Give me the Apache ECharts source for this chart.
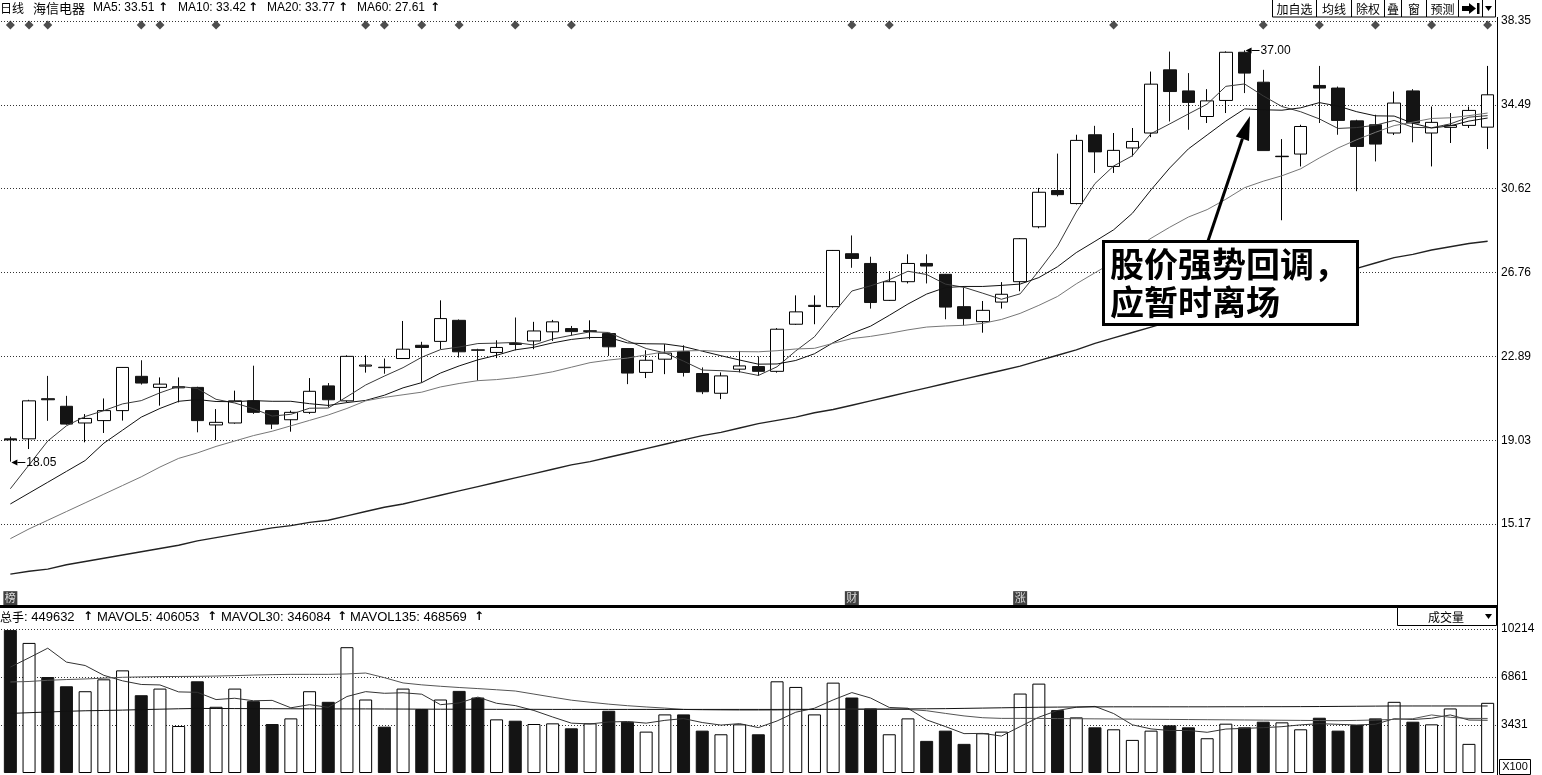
<!DOCTYPE html>
<html><head><meta charset="utf-8">
<script src="https://cdn.jsdelivr.net/npm/echarts@6/dist/echarts.min.js"></script>
<style>html,body{margin:0;padding:0;background:#fff;overflow:hidden}#c{width:1542px;height:775px}</style>
</head><body><div id="c"></div>
<script>
// ---------------- DATA ----------------
const categories = Array.from({length: 80}, (_, i) => 'D' + (i + 1));
const opens = [19.10,19.10,20.95,20.60,19.83,19.94,20.40,21.98,21.47,21.45, 21.47,19.74,19.83,20.85,20.40,19.98,20.32,21.54,20.85,22.45, 22.40,22.80,23.41,23.59,24.56,23.20,23.08,23.50,23.61,24.03, 24.18,24.05,23.95,23.26,22.16,22.77,23.12,22.11,21.20,22.31, 22.43,22.21,24.38,25.20,25.19,27.63,27.18,25.48,26.34,27.18, 26.68,25.19,24.50,25.40,26.34,28.87,30.54,29.94,33.11,31.65, 32.50,33.19,36.10,35.13,33.95,34.69,36.91,35.53,32.10,32.22, 35.38,35.26,33.75,33.57,33.19,35.13,33.19,33.45,33.54,33.46];
const closes = [19.05,20.85,20.90,19.78,20.04,20.40,22.39,21.67,21.62,21.50, 19.94,19.86,20.85,20.32,19.78,20.32,21.29,20.90,22.90,22.50, 22.38,23.23,23.31,24.64,23.11,23.18,23.31,23.45,24.07,24.49, 24.04,24.08,23.34,22.13,22.72,23.05,22.16,21.27,22.00,22.46, 22.21,24.15,24.95,25.25,27.78,27.41,25.38,26.34,27.18,27.06, 25.17,24.64,25.02,25.76,28.32,30.46,30.35,32.85,32.32,32.39, 32.80,35.44,35.10,34.60,34.67,36.91,35.95,32.38,32.12,33.49, 35.26,33.77,32.57,32.68,34.57,33.65,33.68,33.54,34.23,34.95];
const lows = [18.05,18.63,19.93,19.75,18.94,19.37,19.94,21.60,20.63,20.78, 19.40,19.02,19.80,20.25,19.55,19.43,20.25,20.55,20.80,22.15, 22.10,22.80,21.70,23.23,22.85,21.78,22.82,23.18,23.23,23.61, 23.85,23.69,22.92,21.62,21.90,22.08,21.97,21.16,20.93,22.16, 22.00,22.15,24.35,24.38,25.15,26.98,25.10,25.45,26.26,26.26, 24.61,24.33,23.99,25.10,25.90,28.80,30.27,29.90,31.35,31.35, 32.11,33.00,33.72,33.34,33.65,34.11,35.03,32.38,29.17,31.65, 33.65,33.11,30.51,31.88,33.10,32.76,31.65,32.73,33.42,32.45];
const highs = [19.20,20.90,22.00,21.08,20.24,20.96,22.40,22.72,21.93,21.93, 21.50,20.47,21.32,22.47,20.40,20.40,21.90,21.67,22.95,22.95, 22.80,24.53,23.57,25.48,24.60,23.25,23.64,24.69,24.49,24.58, 24.30,24.56,23.95,23.26,23.18,23.46,23.41,22.39,22.16,23.15, 22.90,24.20,25.71,25.71,27.80,28.47,27.49,26.83,27.60,27.60, 26.70,26.07,25.45,26.32,28.35,30.66,32.24,33.11,33.52,33.19, 33.42,36.02,36.94,35.95,35.21,36.95,37.00,36.10,32.91,33.57, 36.28,35.33,33.80,34.03,35.10,35.21,34.41,34.11,34.41,36.28];
const ma5 = [16.80,17.90,19.00,19.70,20.13,20.40,20.71,20.86,21.22,21.52, 21.42,20.92,20.75,20.49,20.15,20.23,20.51,20.52,21.04,21.58, 21.99,22.38,22.86,23.21,23.33,23.49,23.51,23.54,23.42,23.70, 23.87,24.03,24.00,23.62,23.26,23.06,22.68,22.27,22.24,22.19, 22.02,22.42,23.15,23.80,24.87,25.91,26.15,26.43,26.82,26.67, 26.23,26.08,25.81,25.53,25.78,26.84,27.98,29.55,30.86,31.67, 32.14,33.16,33.61,34.07,34.52,35.34,35.45,34.90,34.41,34.17, 33.84,33.40,33.44,33.55,33.77,33.45,33.43,33.61,33.92,33.99];
const ma10 = [16.10,16.60,17.10,17.60,18.10,18.90,19.50,20.10,20.50,20.83, 20.91,20.82,20.81,20.86,20.83,20.83,20.72,20.64,20.77,20.87, 21.11,21.45,21.69,22.13,22.46,22.74,22.95,23.20,23.32,23.52, 23.68,23.77,23.77,23.52,23.48,23.47,23.35,23.14,22.93,22.73, 22.54,22.55,22.71,23.02,23.53,23.96,24.29,24.79,25.31,25.77, 26.07,26.12,26.12,26.17,26.23,26.53,27.03,27.68,28.20,28.73, 29.49,30.57,31.58,32.46,33.10,33.74,34.30,34.26,34.24,34.35, 34.59,34.43,34.17,33.98,33.97,33.64,33.42,33.52,33.74,33.88];
const ma20 = [14.50,14.95,15.35,15.75,16.15,16.55,16.95,17.35,17.80,18.20, 18.45,18.75,19.00,19.25,19.45,19.70,19.95,20.20,20.50,20.85, 21.01,21.13,21.25,21.49,21.65,21.78,21.83,21.92,22.04,22.19, 22.40,22.61,22.73,22.82,22.97,23.11,23.15,23.17,23.12,23.12, 23.11,23.16,23.24,23.27,23.50,23.72,23.82,23.96,24.12,24.25, 24.30,24.33,24.42,24.60,24.88,25.25,25.66,26.24,26.75,27.25, 27.78,28.34,28.85,29.32,29.66,30.14,30.67,30.97,31.22,31.54, 32.04,32.50,32.88,33.22,33.53,33.69,33.86,33.89,33.99,34.11];
const ma60 = [12.87,13.00,13.10,13.30,13.45,13.60,13.75,13.90,14.05,14.20, 14.40,14.55,14.70,14.85,15.00,15.10,15.25,15.35,15.55,15.75, 15.95,16.10,16.30,16.50,16.70,16.90,17.10,17.30,17.50,17.70, 17.90,18.05,18.25,18.45,18.65,18.85,19.05,19.25,19.40,19.60, 19.80,19.95,20.10,20.30,20.45,20.65,20.85,21.05,21.25,21.45, 21.65,21.85,22.05,22.25,22.45,22.70,22.95,23.20,23.50,23.75, 24.00,24.25,24.50,24.75,25.00,25.25,25.50,25.75,25.95,26.20, 26.45,26.70,26.95,27.20,27.45,27.60,27.80,27.95,28.10,28.20];
const volumes = [10214,9298,6861,6199,5844,6696,7335,5560,6033,3360, 6554,4732,6033,5134,3502,3904,5844,5087,8991,5253, 3312,6033,4566,5253,5868,5394,3833,3738,3502,3549, 3194,3549,4448,3667,2958,4188,4188,3028,2768,3478, 2768,6554,6152,4188,6459,5394,4614,2768,3904,2295, 3028,2082,2839,2958,5678,6388,4495,3975,3265,3123, 2366,3028,3407,3265,2484,3525,3265,3667,3620,3123, 3951,3028,3431,3904,5087,3667,3478,4614,2082,5016];
const mavol5 = [7571,8234,8920,7926,7683,6980,6587,6327,6294,5797, 5768,5248,5342,5163,5191,4661,4883,4694,5466,5816, 5697,5735,5631,4883,5006,5423,4983,4817,4467,4003, 3563,3506,3648,3681,3563,3762,3890,3606,3426,3530, 3246,3719,4344,4628,5224,5749,5361,4685,4628,3795, 3322,2815,2830,2640,3317,3989,4472,4699,4760,4249, 3445,3151,3038,3038,2910,3142,3189,3241,3312,3440, 3525,3478,3431,3487,3880,3823,3913,4150,3786,3771];
const mavol30 = [6506,6540,6625,6680,6720,6780,6840,6870,6890,6900, 6909,6930,6960,7000,7030,7050,7050,7051,7080,7145, 6814,6436,6300,6199,6110,6033,5950,5860,5640,5420, 5205,5060,4921,4810,4720,4640,4543,4520,4505,4495, 4495,4500,4520,4540,4550,4560,4560,4550,4540,4450, 4260,4080,3950,3904,3904,3900,3890,3880,3870,3860, 3850,3840,3830,3820,3810,3800,3790,3780,3770,3760, 3750,3740,3760,3790,3830,3880,4150,3980,3900,3900];
const mavol135 = [4259,4310,4360,4410,4448,4470,4495,4530,4560,4590, 4614,4610,4605,4600,4595,4590,4585,4580,4580,4580, 4575,4570,4565,4560,4560,4555,4550,4550,4550,4545, 4545,4545,4545,4545,4545,4545,4545,4545,4545,4545, 4545,4545,4550,4550,4555,4560,4565,4570,4580,4590, 4600,4620,4640,4660,4680,4700,4710,4720,4725,4730, 4730,4730,4730,4730,4730,4735,4735,4740,4740,4745, 4750,4760,4770,4780,4790,4790,4790,4790,4790,4790];
const priceTickLabels = ['15.17','19.03','22.89','26.76','30.62','34.49','38.35'];
const volTickLabels = ['3431','6861','10214'];
const infoMarks = [0,1,2,7,8,11,19,20,22,24,27,30,45,47,59,67,70,73,76,79];
const iconIdx = [0,45,54];
const iconText = ['榜','财','涨'];
const headerItems = [['MA5: 33.51',93],['MA10: 33.42',178],['MA20: 33.77',267],['MA60: 27.61',357]];
const volHeaderItems = [['MAVOL5: 406053',97],['MAVOL30: 346084',221],['MAVOL135: 468569',350]];
const toolbar = [['加自选',1272,44],['均线',1316,35],['除权',1351,33],['叠',1384,17],['窗',1401,25],['预测',1426,32],['',1458,24],['',1482,13]];
const noteLines = ['股价强势回调，', '应暂时离场'];

// ---------------- CHART ----------------
const priceTop = 38.35, priceMin = 11.3067, priceStep = (38.35 - 11.3067) / 7;
const volMax = 10292, volStep = 10292 / 3;
const F = '12px "Liberation Sans", Arial, sans-serif';
const FV = '13px "Liberation Sans", Arial, sans-serif';
const FC = '12px "Noto Sans CJK SC", sans-serif';
const FA = 'bold 12px "DejaVu Sans", sans-serif';

const chart = echarts.init(document.getElementById('c'));
const up = closes.map((c, i) => c >= opens[i]);
const candleData = opens.map((o, i) => [o, closes[i], lows[i], highs[i]]);
const volData = volumes.map((v, i) => ({value: v, itemStyle: up[i]
  ? {color: '#fff', borderColor: '#000', borderWidth: 1}
  : {color: '#141414', borderColor: '#141414', borderWidth: 1}}));

function line(name, data, color, width, ax) {
  return {name, type: 'line', xAxisIndex: ax, yAxisIndex: ax, data, symbol: 'none',
    lineStyle: {color, width}, z: 4, silent: true};
}

chart.setOption({
  animation: false,
  backgroundColor: '#fff',
  grid: [
    {left: 1, right: 45, top: 21, height: 587},
    {left: 1, right: 45, top: 629, height: 144}
  ],
  xAxis: [
    {type: 'category', gridIndex: 0, data: categories, show: false, boundaryGap: true},
    {type: 'category', gridIndex: 1, data: categories, show: false, boundaryGap: true}
  ],
  yAxis: [
    {type: 'value', gridIndex: 0, position: 'right', min: priceMin, max: priceTop, interval: priceStep,
      axisLine: {show: true, lineStyle: {color: '#000', width: 1}}, axisTick: {show: false},
      axisLabel: {color: '#000', fontFamily: '"Liberation Sans", Arial', fontSize: 12, margin: 4,
        formatter: v => { const k = Math.round((v - priceMin) / priceStep); return (k >= 1 && k <= 7) ? priceTickLabels[k - 1] : ''; }},
      splitLine: {show: true, showMinLine: false, lineStyle: {color: '#333', width: 1, type: [1, 2]}}},
    {type: 'value', gridIndex: 1, position: 'right', min: 0, max: volMax, interval: volStep,
      axisLine: {show: true, lineStyle: {color: '#000', width: 1}}, axisTick: {show: false},
      axisLabel: {color: '#000', fontFamily: '"Liberation Sans", Arial', fontSize: 12, margin: 4,
        formatter: v => { const k = Math.round(v / volStep); return (k >= 1 && k <= 3) ? volTickLabels[k - 1] : ''; }},
      splitLine: {show: true, showMinLine: false, lineStyle: {color: '#333', width: 1, type: [1, 2]}}}
  ],
  series: [
    {type: 'candlestick', xAxisIndex: 0, yAxisIndex: 0, data: candleData, barWidth: 13, z: 3,
      itemStyle: {color: '#fff', color0: '#141414', borderColor: '#000', borderColor0: '#141414', borderWidth: 1}},
    line('MA5', ma5, '#3a3a3a', 1, 0),
    line('MA10', ma10, '#111', 1, 0),
    line('MA20', ma20, '#777', 1, 0),
    line('MA60', ma60, '#222', 1.4, 0),
    {type: 'scatter', xAxisIndex: 0, yAxisIndex: 0, data: infoMarks.map(i => [i, 38.17]),
      symbol: 'diamond', symbolSize: [9, 9], itemStyle: {color: '#222'}, z: 5, silent: true},
    {type: 'scatter', xAxisIndex: 0, yAxisIndex: 0,
      data: iconIdx.map((i, k) => ({value: [i, 11.76], label: {formatter: iconText[k]}})),
      symbol: 'rect', symbolSize: [14, 14], itemStyle: {color: '#111'}, z: 5, silent: true,
      label: {show: true, position: 'inside', color: '#fff', fontSize: 11, fontFamily: '"Noto Sans CJK SC"'}},
    {type: 'bar', xAxisIndex: 1, yAxisIndex: 1, data: volData, barWidth: 13, z: 2},
    line('MAVOL5', mavol5, '#333', 1, 1),
    line('MAVOL30', mavol30, '#555', 1, 1),
    line('MAVOL135', mavol135, '#111', 1, 1)
  ]
});

// ---------------- GRAPHICS ----------------
function T(x, y, text, font, align, z) {
  return {type: 'text', z: z || 100, style: {x, y, text, font: font || F, fill: '#000',
    align: align || 'left', textAlign: align || 'left', verticalAlign: 'middle', textVerticalAlign: 'middle'}};
}
function L(x1, y1, x2, y2, w, c) {
  return {type: 'line', z: 100, shape: {x1, y1, x2, y2}, style: {stroke: c || '#000', lineWidth: w || 1}};
}
const g = [];
// header
g.push(T(0, 8, '日线', FC), T(33, 8, '海信电器', '13px "Noto Sans CJK SC", sans-serif'));
headerItems.forEach(([t, x]) => { g.push(T(x, 8, t, F)); });
[158, 248, 338, 430].forEach(x => g.push(T(x, 8, '↑', FA)));
// toolbar
toolbar.forEach(([t, x, w]) => {
  g.push({type: 'rect', z: 100, shape: {x: x + 0.5, y: -1, width: w, height: 18}, style: {fill: '#fff', stroke: '#000', lineWidth: 1}});
  if (t) g.push(T(x + w / 2 + 0.5, 9, t, FC, 'center', 101));
});
g.push({type: 'rect', z: 101, shape: {x: 1462, y: 6, width: 7, height: 5}, style: {fill: '#000'}});
g.push({type: 'polygon', z: 101, shape: {points: [[1469, 3], [1476, 8.5], [1469, 14]]}, style: {fill: '#000'}});
g.push({type: 'rect', z: 101, shape: {x: 1477, y: 3, width: 2.5, height: 11}, style: {fill: '#000'}});
g.push({type: 'polygon', z: 101, shape: {points: [[1485, 6], [1492, 6], [1488.5, 11]]}, style: {fill: '#000'}});
// right vertical axis line full height & panel separator
g.push(L(1497.5, 17, 1497.5, 775, 1));
g.push(L(0, 606.5, 1497, 606.5, 3));
// volume header
g.push(T(0, 617, '总手', FC), T(24, 617, ': 449632', FV), T(83, 617, '↑', FA));
volHeaderItems.forEach(([t, x]) => g.push(T(x, 617, t, FV)));
[207, 337, 474].forEach(x => g.push(T(x, 617, '↑', FA)));
// 成交量 box
g.push({type: 'rect', z: 100, shape: {x: 1397.5, y: 607.5, width: 99, height: 18}, style: {fill: '#fff', stroke: '#000', lineWidth: 1}});
g.push(T(1446, 617, '成交量', FC, 'center', 101));
g.push({type: 'polygon', z: 101, shape: {points: [[1485, 614], [1492, 614], [1488.5, 619]]}, style: {fill: '#000'}});
// X100 box
g.push({type: 'rect', z: 100, shape: {x: 1499.5, y: 759.5, width: 31, height: 15}, style: {fill: '#fff', stroke: '#000', lineWidth: 1}});
g.push(T(1515, 767, 'X100', '11px "Liberation Sans", Arial', 'center', 101));
// annotation box + arrow
g.push({type: 'line', z: 110, shape: {x1: 1208, y1: 241, x2: 1242.4, y2: 138.75}, style: {stroke: '#000', lineWidth: 3}});
g.push({type: 'polygon', z: 110, shape: {points: [[1250, 116], [1249.0, 141.0], [1235.8, 136.5]]}, style: {fill: '#000'}});
g.push({type: 'rect', z: 110, shape: {x: 1103.5, y: 241.5, width: 254, height: 83}, style: {fill: '#fff', stroke: '#000', lineWidth: 3}});
g.push(T(1110, 264, noteLines[0], 'bold 34px "Noto Sans CJK SC", sans-serif', 'left', 120));
g.push(T(1110, 302, noteLines[1], 'bold 34px "Noto Sans CJK SC", sans-serif', 'left', 120));
// high / low flags via the chart's own scales
function flag(idx, val) {
  const p = chart.convertToPixel({xAxisIndex: 0, yAxisIndex: 0}, [idx, val]);
  const x = p[0] + 1, y = Math.round(p[1]) + 0.5;
  return [
    {type: 'polygon', z: 105, shape: {points: [[x, y], [x + 6, y - 3], [x + 6, y + 3]]}, style: {fill: '#000'}},
    L(x + 6, y, x + 14, y, 1),
    T(x + 15, y, val.toFixed(2), F, 'left', 105)
  ];
}
const hiIdx = highs.indexOf(Math.max(...highs));
const loIdx = lows.indexOf(Math.min(...lows));
g.push(...flag(hiIdx, highs[hiIdx]), ...flag(loIdx, lows[loIdx]));
chart.setOption({graphic: g});
</script></body></html>
